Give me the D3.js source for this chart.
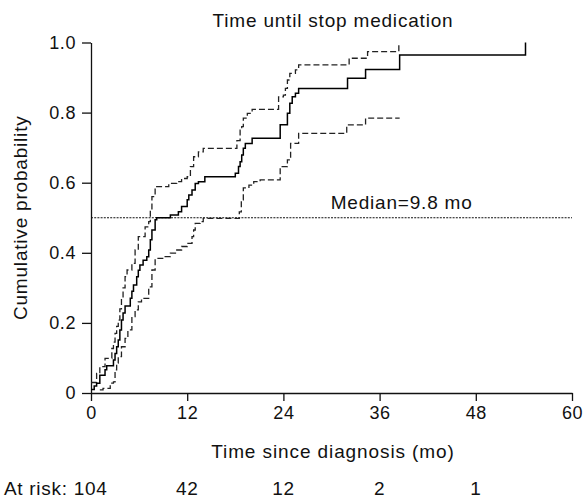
<!DOCTYPE html>
<html>
<head>
<meta charset="utf-8">
<script src="https://cdn.jsdelivr.net/npm/d3@7"></script>
<style>
body{margin:0;background:#fff}
svg text{font-family:"Liberation Sans",Arial,sans-serif;fill:#111}
</style>
</head>
<body>
<div id="chart"></div>
<script>
// step points [month, cumulative probability]
var estimate=[[0,0.01],[0.4,0.02],[0.7,0.028],[1.1,0.051],[1.75,0.066],[1.96,0.078],[2.8,0.094],[3.0,0.113],[3.2,0.132],[3.4,0.151],[3.6,0.18],[3.8,0.208],[4.0,0.228],[4.25,0.248],[4.9,0.27],[5.1,0.29],[5.3,0.308],[5.7,0.332],[5.9,0.35],[6.1,0.365],[6.5,0.379],[6.96,0.389],[7.2,0.408],[7.4,0.437],[7.6,0.465],[8.0,0.494],[8.2,0.5],[9.9,0.508],[10.9,0.517],[11.3,0.532],[12,0.551],[12.2,0.565],[12.6,0.579],[13,0.598],[13.4,0.603],[14.2,0.617],[18,0.627],[18.4,0.646],[18.6,0.66],[18.8,0.679],[19,0.698],[19.25,0.712],[20.1,0.727],[23.6,0.765],[24.5,0.798],[24.8,0.827],[25.1,0.845],[25.5,0.855],[25.9,0.869],[32,0.898],[34.25,0.923],[38.5,0.964],[54.2,0.964],[54.2,1.0]]
var upperCI=[[0,0.03],[0.7,0.056],[1.1,0.075],[1.75,0.099],[2.6,0.127],[2.8,0.145],[3.0,0.17],[3.2,0.19],[3.4,0.208],[3.6,0.24],[3.8,0.27],[4.0,0.3],[4.25,0.332],[4.5,0.351],[5.1,0.37],[5.5,0.408],[5.9,0.446],[6.75,0.474],[7.2,0.489],[7.4,0.52],[7.6,0.56],[8.0,0.589],[9.7,0.598],[10.7,0.603],[11.3,0.612],[12,0.617],[12.4,0.646],[12.8,0.674],[13.4,0.688],[14,0.698],[18.2,0.72],[18.6,0.75],[18.8,0.76],[19,0.784],[19.5,0.798],[20.1,0.809],[23.4,0.845],[24,0.85],[24.25,0.869],[24.5,0.893],[24.8,0.912],[25.5,0.922],[25.9,0.936],[32.2,0.955],[34.5,0.974],[38.4,0.974],[38.4,1.0]]
var lowerCI=[[1.1,0.009],[1.5,0.013],[2.4,0.028],[2.8,0.032],[3.0,0.066],[3.2,0.085],[3.4,0.104],[3.8,0.132],[4.25,0.156],[4.6,0.18],[5.1,0.218],[5.5,0.237],[5.9,0.26],[6.3,0.27],[7.2,0.303],[7.6,0.351],[8.0,0.384],[9.25,0.389],[9.9,0.399],[10.7,0.408],[11.3,0.418],[12,0.427],[12.6,0.446],[12.8,0.465],[13,0.484],[13.6,0.489],[14,0.498],[18.5,0.517],[18.75,0.551],[19,0.585],[19.7,0.593],[20.3,0.603],[21.1,0.608],[23.6,0.646],[24.5,0.665],[24.9,0.712],[25.9,0.741],[31.9,0.765],[34.25,0.784],[38.5,0.784]]

var median=0.5
var medianLabel='Median=9.8 mo'
var xTicks=[0,12,24,36,48,60]
var yTicks=[0,0.2,0.4,0.6,0.8,1.0]
var yTickLabels=['0','0.2','0.4','0.6','0.8','1.0']
var riskTimes=[12,24,36,48]
var riskCounts=[42,12,2,1]
var riskFirst='At risk: 104'

var W=587,H=498
var svg=d3.select('#chart').append('svg')
    .attr('width',W).attr('height',H)

var x=d3.scaleLinear().domain([0,60]).range([91,572])
var y=d3.scaleLinear().domain([0,1]).range([393,42.5])

// axes
svg.append('g')
    .attr('transform','translate(0,'+y(0)+')')
    .call(d3.axisBottom(x).tickValues(xTicks).tickSize(8).tickPadding(5).tickSizeOuter(0))
svg.append('g')
    .attr('transform','translate('+x(0)+',0)')
    .call(d3.axisLeft(y).tickValues(yTicks).tickSize(9).tickPadding(6).tickSizeOuter(0)
	  .tickFormat(function(d,i){return yTickLabels[i]}))
svg.selectAll('.domain, .tick line').attr('stroke','#111').attr('stroke-width',1.3)
svg.selectAll('.tick text').attr('font-size',18).attr('letter-spacing',0.6)
    .attr('font-family','"Liberation Sans",Arial,sans-serif').attr('fill','#111')

// median line
svg.append('line')
    .attr('x1',x(0)).attr('x2',x(60))
    .attr('y1',y(median)).attr('y2',y(median))
    .attr('stroke','#111').attr('stroke-width',1.1)
    .attr('stroke-dasharray','2,1.2')
svg.append('text')
    .attr('x',x(29.9)).attr('y',y(median)-9)
    .attr('font-size',19).attr('letter-spacing',0.8)
    .text(medianLabel)

var step=d3.line()
    .x(function(d){return x(d[0])})
    .y(function(d){return y(d[1])})
    .curve(d3.curveStepAfter)

svg.append('path').datum(upperCI)
    .attr('d',step).attr('fill','none')
    .attr('stroke','#222').attr('stroke-width',1.3)
    .attr('stroke-dasharray','6,3')
svg.append('path').datum(lowerCI)
    .attr('d',step).attr('fill','none')
    .attr('stroke','#222').attr('stroke-width',1.3)
    .attr('stroke-dasharray','6,3')
svg.append('path').datum(estimate)
    .attr('d',step).attr('fill','none')
    .attr('stroke','#000').attr('stroke-width',1.5)

// titles
svg.append('text')
    .attr('x',333).attr('y',26.5)
    .attr('text-anchor','middle').attr('font-size',19).attr('letter-spacing',0.8)
    .text('Time until stop medication')
svg.append('text')
    .attr('transform','translate(27,'+y(0.5)+') rotate(-90)')
    .attr('text-anchor','middle').attr('font-size',19).attr('letter-spacing',0.8)
    .text('Cumulative probability')
svg.append('text')
    .attr('x',333).attr('y',458)
    .attr('text-anchor','middle').attr('font-size',19).attr('letter-spacing',0.9)
    .text('Time since diagnosis (mo)')

// numbers at risk
svg.append('text')
    .attr('x',4).attr('y',495)
    .attr('font-size',19).attr('letter-spacing',0.7)
    .text(riskFirst)
svg.selectAll('.risk').data(riskTimes).enter().append('text')
    .attr('class','risk')
    .attr('x',function(d){return x(d)})
    .attr('y',495)
    .attr('text-anchor','middle').attr('font-size',19).attr('letter-spacing',0.7)
    .text(function(d,i){return riskCounts[i]})
</script>
</body>
</html>
